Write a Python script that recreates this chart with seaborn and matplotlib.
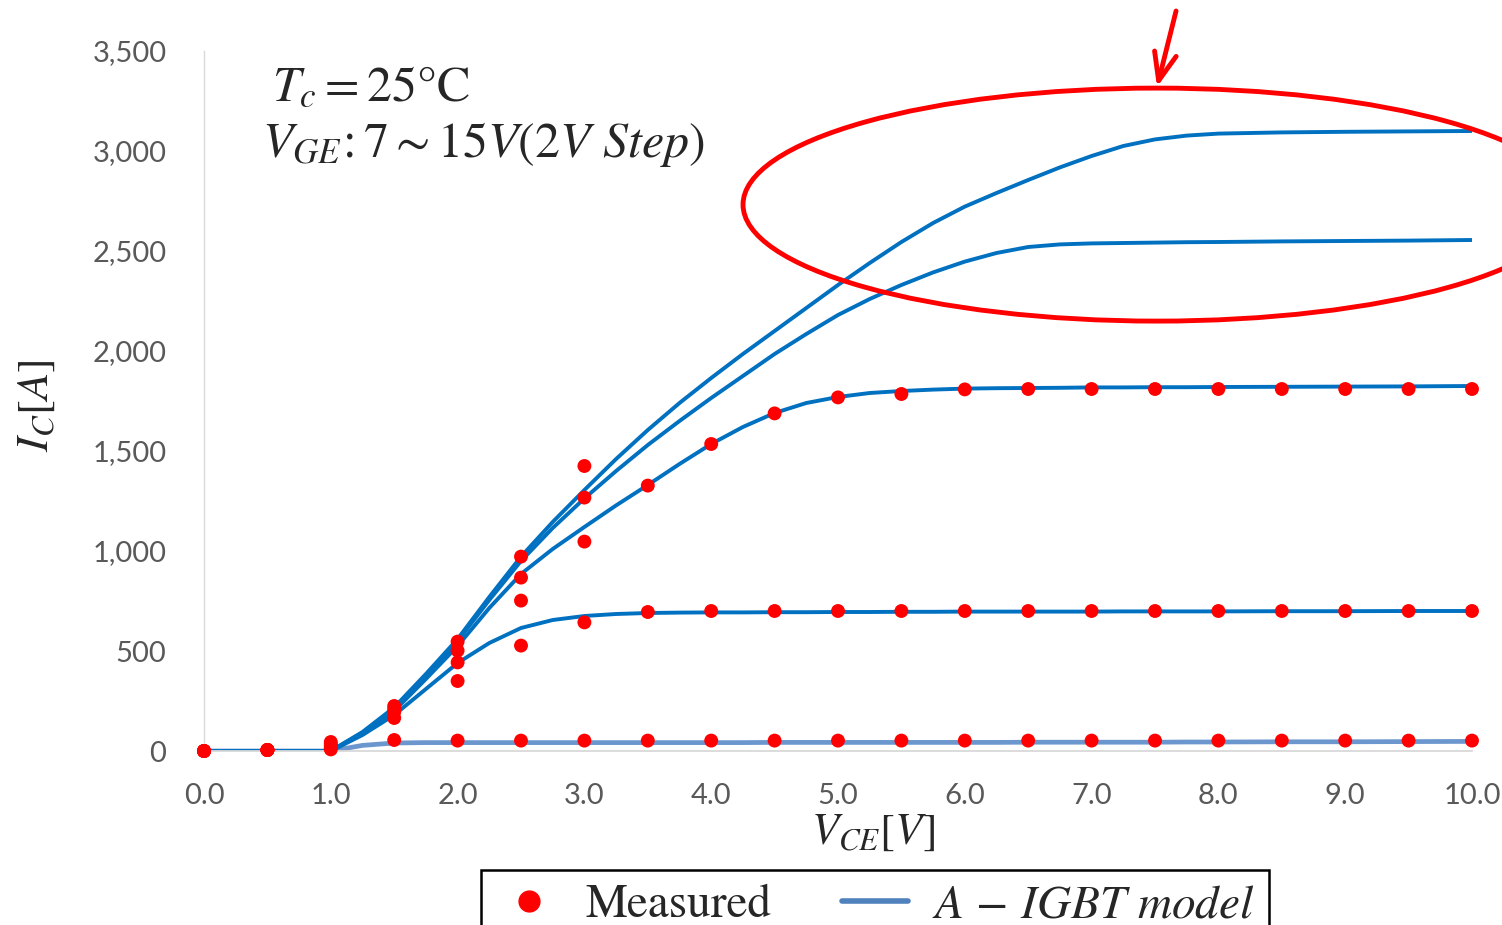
import numpy as np
import pandas as pd
import matplotlib
matplotlib.use('Agg')
import matplotlib.pyplot as plt
import seaborn as sns
from matplotlib.patches import Ellipse
from matplotlib.lines import Line2D

# A-IGBT model curves, V_GE = 7..15 V (2 V step)
vce_model = [0.0, 0.5, 1.0, 1.25, 1.5, 1.75, 2.0, 2.25, 2.5, 2.75, 3.0, 3.25, 3.5, 3.75,
             4.0, 4.25, 4.5, 4.75, 5.0, 5.25, 5.5, 5.75, 6.0, 6.25, 6.5, 6.75, 7.0,
             7.25, 7.5, 7.75, 8.0, 8.5, 9.0, 9.5, 10.0]
model_vge7 = [0, 0, 0, 28, 40, 42, 42, 42, 42, 42, 42, 42, 42, 42,
              42, 42, 43, 43, 43, 43, 43, 43, 43, 43, 44, 44, 44,
              44, 44, 45, 45, 46, 46, 47, 48]
model_vge9 = [0, 0, 0, 80, 180, 310, 440, 540, 615, 655, 675, 685, 690, 692,
              693, 693, 694, 694, 695, 695, 696, 696, 697, 697, 697, 697, 697,
              698, 698, 698, 698, 699, 699, 700, 700]
model_vge11 = [0, 0, 0, 88, 200, 360, 525, 715, 885, 1010, 1120, 1228, 1330, 1435,
               1535, 1620, 1690, 1740, 1770, 1790, 1800, 1807, 1812, 1814, 1815, 1816, 1818,
               1818, 1819, 1819, 1820, 1821, 1822, 1823, 1825]
model_vge13 = [0, 0, 0, 92, 212, 378, 550, 755, 950, 1115, 1263, 1400, 1530, 1650,
               1765, 1875, 1985, 2085, 2180, 2260, 2330, 2393, 2447, 2490, 2520, 2533, 2538,
               2540, 2542, 2544, 2545, 2548, 2550, 2552, 2555]
model_vge15 = [0, 0, 0, 95, 218, 385, 560, 770, 972, 1145, 1305, 1460, 1605, 1740,
               1865, 1985, 2100, 2215, 2330, 2440, 2545, 2640, 2722, 2790, 2855, 2918, 2975,
               3025, 3058, 3077, 3087, 3093, 3096, 3098, 3100]

# measured points
vce_meas = [0.0, 0.5, 1.0, 1.5, 2.0, 2.5, 3.0, 3.5, 4.0, 4.5, 5.0,
            5.5, 6.0, 6.5, 7.0, 7.5, 8.0, 8.5, 9.0, 9.5, 10.0]
meas_vge7 = [0, 5, 8, 55, 52, 52, 52, 52, 52, 52, 52,
             52, 52, 52, 52, 52, 52, 52, 52, 52, 52]
meas_vge9 = [0, 5, 15, 165, 350, 527, 643, 695, 700, 700, 700,
             700, 700, 700, 700, 700, 700, 700, 700, 700, 700]
meas_vge11 = [0, 5, 25, 195, 443, 752, 1047, 1327, 1535, 1688, 1768,
              1785, 1808, 1810, 1810, 1810, 1810, 1810, 1810, 1810, 1810]
meas_vge13 = [0, 5, 35, 210, 502, 867, 1267]
meas_vge15 = [0, 5, 45, 225, 547, 972, 1425]

x_ticks = [0, 1, 2, 3, 4, 5, 6, 7, 8, 9, 10]
y_ticks = [0, 500, 1000, 1500, 2000, 2500, 3000, 3500]

# long form tables for seaborn
model_df = pd.concat([
    pd.DataFrame({'Vce': vce_model, 'Ic': vals, 'Vge': vge})
    for vge, vals in [(7, model_vge7), (9, model_vge9), (11, model_vge11),
                      (13, model_vge13), (15, model_vge15)]
])
meas_df = pd.concat([
    pd.DataFrame({'Vce': vce_meas[:len(vals)], 'Ic': vals, 'Vge': vge})
    for vge, vals in [(7, meas_vge7), (9, meas_vge9), (11, meas_vge11),
                      (13, meas_vge13), (15, meas_vge15)]
])

sns.set_style('white')
plt.rcParams['font.family'] = ['Lato', 'DejaVu Sans']
plt.rcParams['mathtext.fontset'] = 'stix'

fig = plt.figure(figsize=(15.02, 9.25), dpi=100)
ax = fig.add_axes([204 / 1502, 1 - 751 / 925, 1268 / 1502, 700 / 925])

# VGE 7 curve is lighter / a bit thicker in the original
sns.lineplot(data=model_df[model_df.Vge == 7], x='Vce', y='Ic', color='#5b8bc9',
             linewidth=3.4, alpha=0.9, estimator=None, sort=False, legend=False, ax=ax)
sns.lineplot(data=model_df[model_df.Vge != 7], x='Vce', y='Ic', units='Vge',
             color='#0070c0', linewidth=2.8, estimator=None, sort=False, legend=False, ax=ax)
sns.scatterplot(data=meas_df, x='Vce', y='Ic', color='#ff0000', s=100, edgecolor='none',
                legend=False, ax=ax, zorder=5, clip_on=False)

ax.set_xlim(0, 10)
ax.set_ylim(0, 3500)
ax.set_xticks(x_ticks)
ax.set_xticklabels([f'{v:.1f}' for v in x_ticks])
ax.set_yticks(y_ticks)
ax.set_yticklabels([f'{v:,}' for v in y_ticks])
ax.tick_params(axis='x', length=0, pad=23, labelsize=21, labelcolor='#595959')
ax.tick_params(axis='y', length=0, pad=27, labelsize=21, labelcolor='#595959')
for s in ['top', 'right']:
    ax.spines[s].set_visible(False)
ax.spines['left'].set_color('#d9d9d9')
ax.spines['left'].set_linewidth(1.0)
ax.spines['bottom'].set_color('#d9d9d9')
ax.spines['bottom'].set_linewidth(1.3)

ax.set_xlabel(r'$V_{CE}[V]$', fontsize=32)
ax.set_ylabel(r'$I_C[A]$', fontsize=32)
ax.xaxis.set_label_coords(0.5276, -0.087)
ax.yaxis.set_label_coords(-0.116, 0.494)

# conditions text
fig.text(272 / 1502, 1 - 100 / 925, r'$T_c = 25\mathrm{°C}$', fontsize=36, va='baseline')
fig.text(262 / 1502, 1 - 157 / 925, r'$V_{GE}\!:7{\sim}15V(2V\ Step)$', fontsize=36, va='baseline')

# red ellipse + arrow highlighting the two top curves
ell = Ellipse((7.516, 2732), width=6.53, height=1165, fill=False,
              edgecolor='#ff0000', linewidth=3.5, zorder=6, clip_on=False)
ax.add_patch(ell)
ax.annotate('', xy=(7.516, 3320), xytext=(7.666, 3700), annotation_clip=False,
            arrowprops=dict(arrowstyle='->,head_length=1.0,head_width=0.4', color='#ff0000',
                            lw=3.5, mutation_scale=20, shrinkA=0, shrinkB=0, clip_on=False))

handles = [Line2D([], [], marker='o', linestyle='none', color='#ff0000', markersize=15),
           Line2D([], [], color='#4f81bd', linewidth=4.0)]
fig.legend(handles, ['Measured', r'$A\,-\,IGBT\ model$'], loc='upper center',
           bbox_to_anchor=(875 / 1502, 1 - 870 / 925), ncol=2,
           frameon=True, fancybox=False, edgecolor='black', framealpha=1,
           borderaxespad=0, borderpad=0.3, handlelength=1.4, handletextpad=0.5,
           columnspacing=1.5, prop={'family': 'STIXGeneral', 'size': 34})
leg = fig.legends[0]
leg.get_frame().set_linewidth(1.8)

plt.savefig('out.png', dpi=100)
